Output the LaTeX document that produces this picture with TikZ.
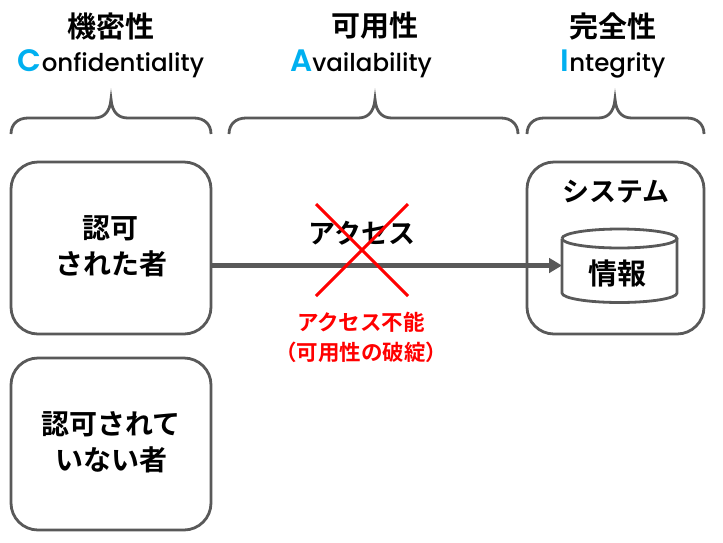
\documentclass[tikz,border=0pt]{standalone}
\usepackage{fontspec}
\setmainfont{Poppins Medium}
\newfontfamily\capfont{Poppins SemiBold}
\newfontfamily\jp{Noto Sans CJK JP}[BoldFont={* Bold}]
\usetikzlibrary{arrows.meta}
\definecolor{edge}{HTML}{595959}
\definecolor{capblue}{HTML}{00B0F0}
\newcommand{\capletter}[1]{\textcolor{capblue}{\capfont\fontsize{31}{30}\selectfont #1}}
\tikzset{
  x=1pt,y=-1pt,
  frame/.style={draw=edge,line width=2.8pt,rounded corners=27pt,minimum width=200pt,minimum height=172pt,inner sep=0,align=center},
  boxtext/.style={font=\jp\fontsize{28}{37}\selectfont\bfseries,align=center,inner sep=0},
  head/.style={font=\jp\fontsize{29}{30}\selectfont\bfseries,anchor=center,inner sep=0},
  eng/.style={font=\fontsize{24.5}{30}\selectfont,anchor=center,inner sep=0},
  brace/.style={draw=edge,line width=2.8pt},
  lbl/.style={font=\jp\fontsize{27}{30}\selectfont\bfseries,inner sep=0},
}
\begin{document}
\begin{tikzpicture}
\useasboundingbox (0,0) rectangle (723,542);
\node[head] (h1) at (111,26) {機密性};
\node[head] (h2) at (375,26) {可用性};
\node[head] (h3) at (613,26) {完全性};
\node[eng] (e1) at (111,64) {\capletter{C}onfidentiality};
\node[eng] (e2) at (361,64) {\capletter{A}vailability};
\node[eng] (e3) at (613,64) {\capletter{I}ntegrity};
% curly braces above the three columns
\draw[brace] (11,134) .. controls (11,124) and (18,118) .. (28,118) -- (94,118) .. controls (104,118) and (110,112) .. (111,99) .. controls (112,112) and (118,118) .. (128,118) -- (194,118) .. controls (204,118) and (211,124) .. (211,134);
\draw[brace] (229,134) .. controls (229,124) and (236,118) .. (246,118) -- (358,118) .. controls (368,118) and (374,112) .. (375,99) .. controls (376,112) and (382,118) .. (392,118) -- (501,118) .. controls (511,118) and (518,124) .. (518,134);
\draw[brace] (527,134) .. controls (527,124) and (534,118) .. (544,118) -- (598,118) .. controls (608,118) and (614,112) .. (615,99) .. controls (616,112) and (622,118) .. (632,118) -- (687,118) .. controls (697,118) and (704,124) .. (704,134);
\node[frame] (a) at (111,248) {};
\node[boxtext] (at) at (111,246) {認可\\[-1pt]された者};
\node[frame] (b) at (111,444) {};
\node[boxtext] (bt) at (111,442) {認可されて\\[-1pt]いない者};
\node[frame,minimum width=177pt] (s) at (615.5,248) {};
\node[lbl] (st) at (616,192) {システム};
% database cylinder
\coordinate (dbw) at (562,265.5);
\draw[edge,line width=2.8pt] (562,238.5) arc[x radius=57.5,y radius=9.5,start angle=180,end angle=540];
\draw[edge,line width=2.8pt] (562,238.5) -- (562,293) arc[x radius=57.5,y radius=9.5,start angle=180,end angle=0] -- (677,238.5);
\node[lbl,font=\jp\fontsize{29}{30}\selectfont\bfseries] (dbl) at (617,274) {情報};
\node[lbl] (acc) at (362,233) {アクセス};
\draw[edge,line width=4.3pt,-{Triangle[length=13pt,width=14.5pt]}] (a.east |- dbw) -- (dbw);
\draw[red,line width=3pt] (316,204) -- (408,296);
\draw[red,line width=3pt] (408,204) -- (316,296);
\node[font=\jp\fontsize{21.5}{30}\selectfont\bfseries,text=red,align=center,inner sep=0] (no) at (361,337) {アクセス不能\\（可用性の破綻）};
\end{tikzpicture}
\end{document}
